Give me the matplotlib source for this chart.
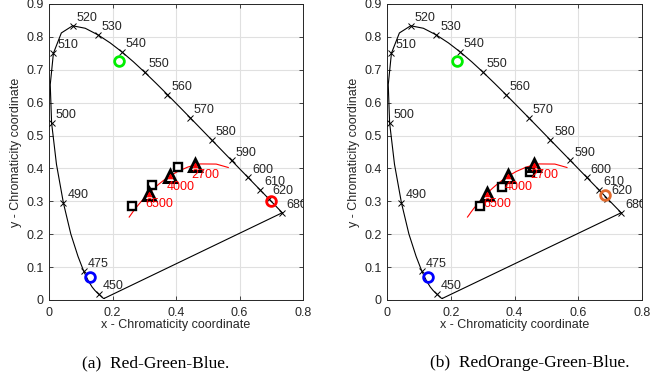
import matplotlib
matplotlib.use("Agg")
import matplotlib.pyplot as plt

# CIE 1931 spectral locus (wavelength nm, x, y)
locus_wl = [380, 390, 400, 410, 420, 425, 430, 435, 440, 445, 450, 455, 460, 465,
            470, 475, 480, 485, 490, 495, 500, 505, 510, 515, 520, 525, 530, 535,
            540, 545, 550, 555, 560, 565, 570, 575, 580, 585, 590, 595, 600, 605,
            610, 615, 620, 625, 630, 640, 650, 660, 670, 680]
locus_x = [0.1741, 0.1738, 0.1733, 0.1726, 0.1714, 0.1703, 0.1689, 0.1669, 0.1644,
           0.1611, 0.1566, 0.1510, 0.1440, 0.1355, 0.1241, 0.1096, 0.0913, 0.0687,
           0.0454, 0.0235, 0.0082, 0.0039, 0.0139, 0.0389, 0.0743, 0.1142, 0.1547,
           0.1929, 0.2296, 0.2658, 0.3016, 0.3373, 0.3731, 0.4087, 0.4441, 0.4788,
           0.5125, 0.5448, 0.5752, 0.6029, 0.6270, 0.6482, 0.6658, 0.6801, 0.6915,
           0.7006, 0.7079, 0.7190, 0.7260, 0.7300, 0.7320, 0.7347]
locus_y = [0.0050, 0.0049, 0.0048, 0.0048, 0.0051, 0.0058, 0.0069, 0.0086, 0.0109,
           0.0138, 0.0177, 0.0227, 0.0297, 0.0399, 0.0578, 0.0868, 0.1327, 0.2007,
           0.2950, 0.4127, 0.5384, 0.6548, 0.7502, 0.8120, 0.8338, 0.8262, 0.8059,
           0.7816, 0.7543, 0.7243, 0.6923, 0.6589, 0.6245, 0.5896, 0.5547, 0.5202,
           0.4866, 0.4544, 0.4242, 0.3965, 0.3725, 0.3514, 0.3340, 0.3197, 0.3083,
           0.2993, 0.2920, 0.2809, 0.2740, 0.2700, 0.2680, 0.2653]

# Labelled wavelengths
label_wl = [450, 475, 490, 500, 510, 520, 530, 540, 550, 560, 570, 580, 590,
            600, 610, 620, 680]

# Planckian locus samples (K, x, y)
planck_T = [1667, 2000, 2500, 2700, 3000, 3500, 4000, 4500, 5000, 5500, 6000,
            6500, 7000, 8000, 9000, 10000, 12000, 15000, 20000, 25000]
planck_x = [0.5646, 0.5267, 0.4770, 0.4599, 0.4369, 0.4053, 0.3805, 0.3608,
            0.3451, 0.3325, 0.3221, 0.3135, 0.3064, 0.2952, 0.2869, 0.2807,
            0.2719, 0.2637, 0.2565, 0.2525]
planck_y = [0.4029, 0.4133, 0.4137, 0.4106, 0.4041, 0.3907, 0.3768, 0.3636,
            0.3516, 0.3411, 0.3318, 0.3236, 0.3166, 0.3048, 0.2956, 0.2884,
            0.2779, 0.2674, 0.2574, 0.2522]

# Target CCT points (triangles)
cct_labels = ["6500", "4000", "2700"]
cct_x = [0.3135, 0.3805, 0.4599]
cct_y = [0.3236, 0.3768, 0.4106]

# Achieved points (squares) per panel
sq_a_x = [0.262, 0.323, 0.407]
sq_a_y = [0.285, 0.350, 0.405]
sq_b_x = [0.293, 0.362, 0.448]
sq_b_y = [0.287, 0.345, 0.390]

# Primary LEDs per panel
prim_a_x = [0.700, 0.220, 0.130]
prim_a_y = [0.300, 0.726, 0.070]
prim_a_c = ["#FF0000", "#00EE00", "#0000FF"]
prim_b_x = [0.685, 0.220, 0.130]
prim_b_y = [0.318, 0.726, 0.070]
prim_b_c = ["#E06A2C", "#00EE00", "#0000FF"]

captions = ["(a)  Red-Green-Blue.", "(b)  RedOrange-Green-Blue."]

plt.rcParams['font.family'] = ['Liberation Sans', 'DejaVu Sans']
TXT = '#262626'

fig = plt.figure(figsize=(6.68, 3.81), dpi=100)
axes_rects = [[49/668, 1-300/381, 254/668, 296/381],
              [387/668, 1-300/381, 255/668, 296/381]]
caption_x = [156/668, 530/668]

panels = [(sq_a_x, sq_a_y, prim_a_x, prim_a_y, prim_a_c),
          (sq_b_x, sq_b_y, prim_b_x, prim_b_y, prim_b_c)]

FS = 9

for i, (sx, sy, px, py, pc) in enumerate(panels):
    ax = fig.add_axes(axes_rects[i])
    ax.set_xlim(0, 0.8)
    ax.set_ylim(0, 0.9)
    ax.set_xticks([0, 0.2, 0.4, 0.6, 0.8])
    ax.set_xticklabels(['0', '0.2', '0.4', '0.6', '0.8'])
    ax.set_yticks([0, 0.1, 0.2, 0.3, 0.4, 0.5, 0.6, 0.7, 0.8, 0.9])
    ax.set_yticklabels(['0', '0.1', '0.2', '0.3', '0.4', '0.5', '0.6', '0.7', '0.8', '0.9'])
    ax.grid(True, color='#E0E0E0', linewidth=0.8)
    ax.set_axisbelow(True)
    ax.tick_params(direction='in', top=True, right=True, length=3, width=0.6,
                   labelsize=FS, colors=TXT)
    ax.tick_params(axis='x', pad=5)
    ax.tick_params(axis='y', pad=4)
    for s in ax.spines.values():
        s.set_color(TXT)
        s.set_linewidth(0.7)
    ax.set_xlabel('x - Chromaticity coordinate', fontsize=FS, color=TXT, labelpad=0)
    ax.set_ylabel('y - Chromaticity coordinate', fontsize=FS, color=TXT, labelpad=3)

    # spectral locus and purple line
    ax.plot(locus_x, locus_y, color='black', lw=0.8, zorder=2)
    ax.plot([locus_x[-1], locus_x[0]], [locus_y[-1], locus_y[0]], color='black',
            lw=0.8, zorder=2)
    for wl in label_wl:
        k = locus_wl.index(wl)
        ax.plot(locus_x[k], locus_y[k], marker='x', color='black', ms=4, mew=0.7,
                zorder=3)
        ax.text(locus_x[k] + 0.012, locus_y[k] + 0.024, str(wl), fontsize=FS,
                color=TXT, ha='left', va='center', clip_on=True)

    # Planckian locus
    ax.plot(planck_x, planck_y, color='#FF0000', lw=0.8, zorder=3)

    # squares
    ax.plot(sx, sy, ls='none', marker='s', ms=5.5, mfc='white', mec='black',
            mew=1.7, zorder=4)
    # triangles
    ax.plot(cct_x, cct_y, ls='none', marker='^', ms=9, mfc='none', mec='black',
            mew=2.2, zorder=5)
    ax.plot(cct_x, cct_y, ls='none', marker='^', ms=3.5, mfc='#FF0000',
            mec='#FF0000', mew=0.5, zorder=6)
    for lab, x, y in zip(cct_labels, cct_x, cct_y):
        ax.text(x - 0.011, y - 0.032, lab, fontsize=FS, color='#FF0000',
                ha='left', va='center', zorder=6)

    # primaries
    for x, y, c in zip(px, py, pc):
        ax.plot(x, y, marker='o', ms=7, mfc='none', mec=c, mew=2.0, zorder=6)

    fig.text(caption_x[i], 1 - 363/381, captions[i], fontsize=12.5,
             family=['Liberation Serif', 'DejaVu Serif'], ha='center', va='center',
             color='black')

fig.savefig('out.png', dpi=100)
